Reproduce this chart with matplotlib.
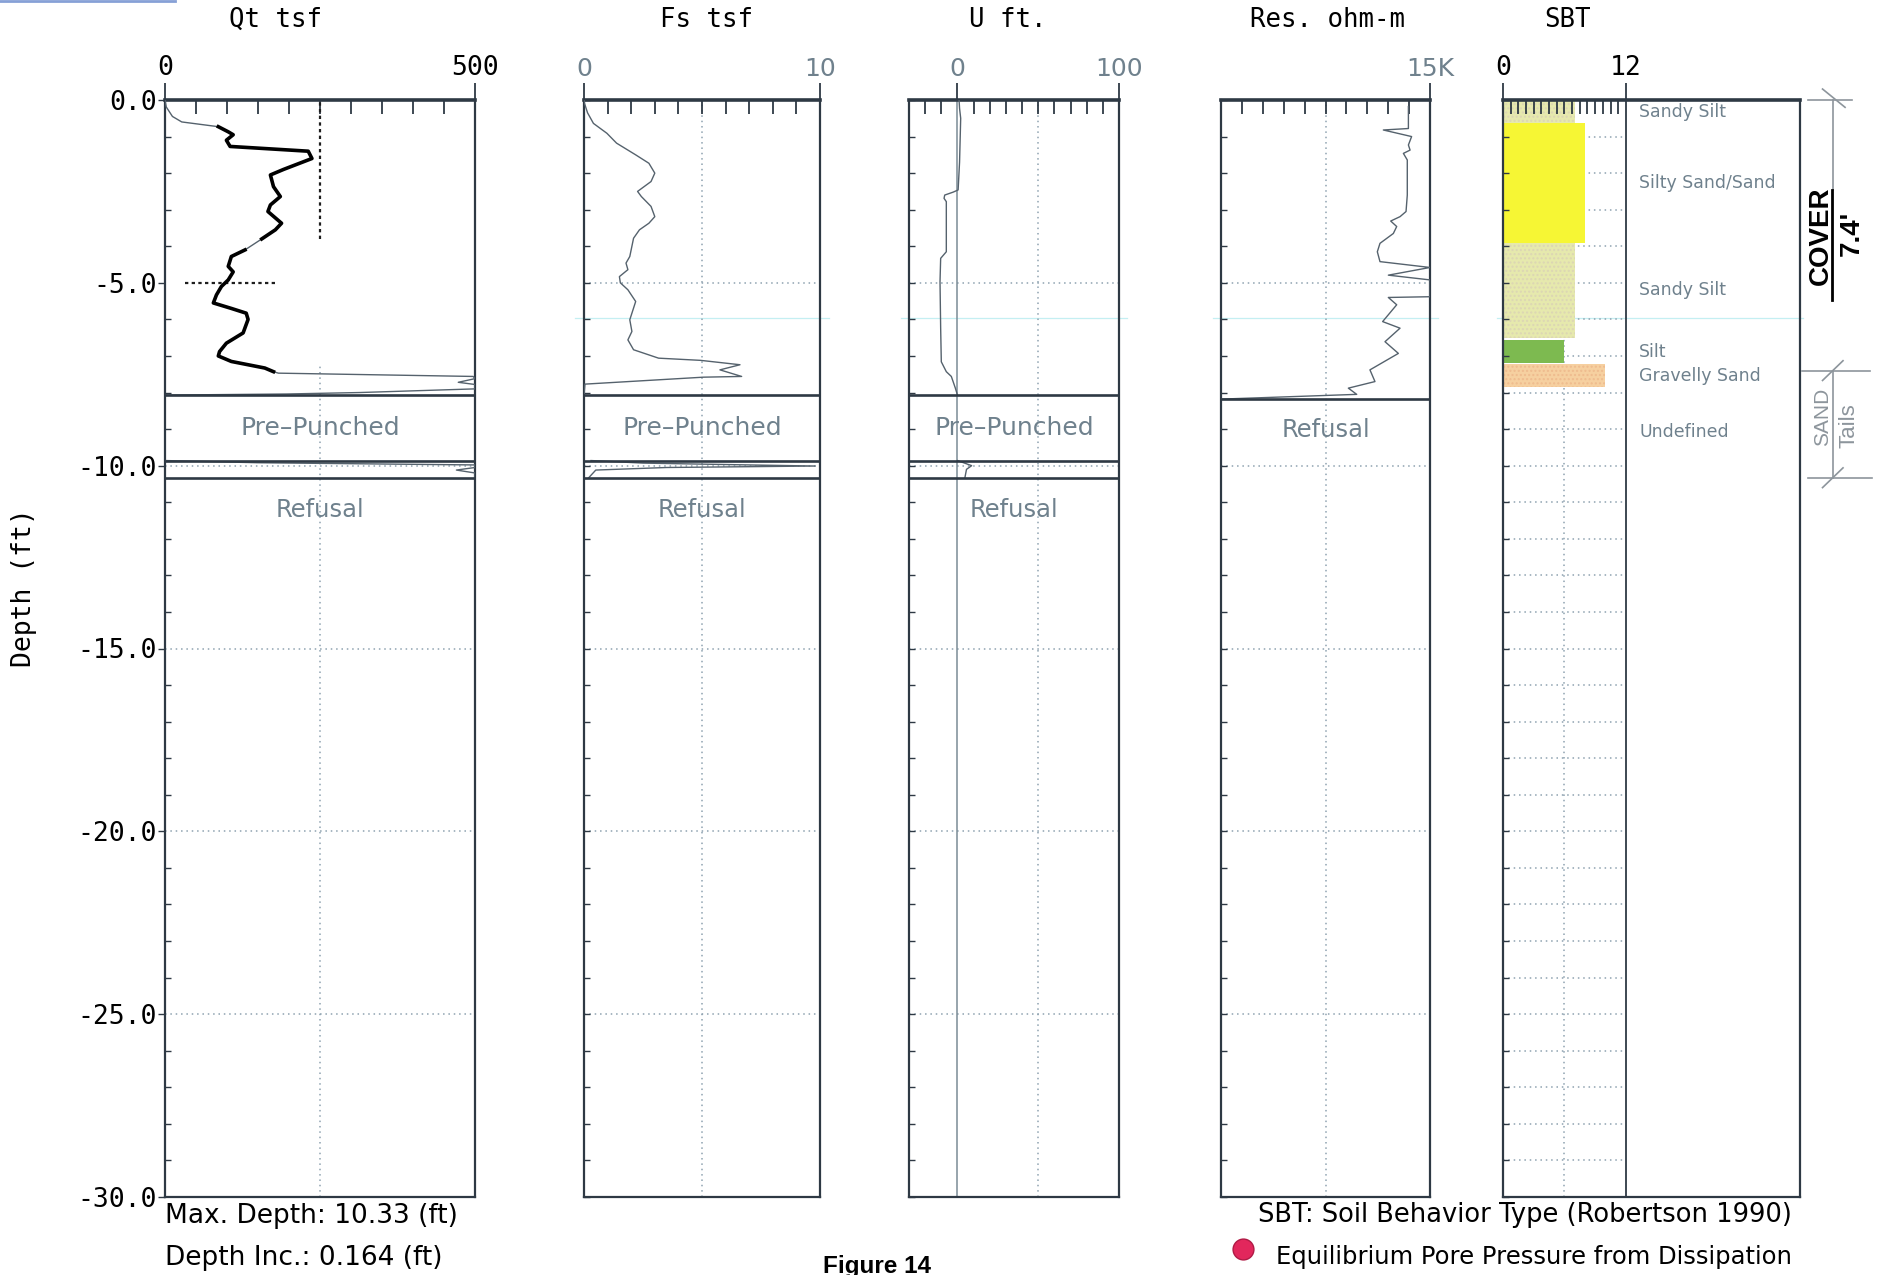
import numpy as np
import matplotlib.pyplot as plt
from matplotlib.ticker import MultipleLocator, FixedLocator, FuncFormatter
from matplotlib.lines import Line2D

# CPT sounding logs, depth in ft below ground surface
qt_depth = [0.00, 0.19, 0.45, 0.60, 0.73, 0.87, 0.95, 1.10, 1.27, 1.40, 1.60, 1.90,
            2.05, 2.37, 2.64, 2.87, 3.05, 3.37, 3.55, 3.80, 4.10, 4.28, 4.55, 4.70,
            4.92, 5.10, 5.33, 5.55, 5.70, 5.83, 6.00, 6.37, 6.65, 6.88, 7.00, 7.15,
            7.33, 7.43, 7.47, 7.56, 7.62, 7.72, 7.78, 7.90, 8.00, 8.04, 8.07]
qt_tsf = [0, 2, 12, 27, 86, 102, 110, 99, 105, 231, 237, 191,
          170, 175, 186, 170, 166, 188, 178, 156, 129, 107, 102, 110,
          102, 91, 83, 78, 107, 131, 134, 126, 99, 88, 86, 107,
          161, 175, 183, 497, 500, 473, 500, 500, 314, 196, 0]
qt_band_depth = [9.86, 9.92, 9.98, 10.05, 10.12, 10.20, 10.33]
qt_band_tsf = [0, 150, 500, 500, 470, 500, 500]

fs_depth = [0.00, 0.09, 0.35, 0.64, 0.91, 1.18, 1.50, 1.73, 2.00, 2.23, 2.50, 2.64,
            2.91, 3.19, 3.37, 3.55, 3.78, 4.28, 4.46, 4.64, 4.83, 5.00, 5.19, 5.51,
            5.83, 6.01, 6.33, 6.56, 6.83, 7.06, 7.12, 7.24, 7.38, 7.56, 7.58, 7.77, 8.07]
fs_tsf = [0.00, 0.02, 0.15, 0.40, 0.97, 1.38, 2.19, 2.75, 3.00, 2.84, 2.27, 2.43,
          2.84, 3.00, 2.75, 2.35, 2.10, 1.94, 1.78, 1.86, 1.50, 1.54, 1.86, 2.19,
          2.03, 1.94, 2.03, 1.86, 2.10, 3.16, 4.94, 6.61, 5.76, 6.68, 5.06, 0.04, 0.00]
fs_band_depth = [9.86, 9.93, 9.98, 10.01, 10.05, 10.12, 10.33]
fs_band_tsf = [0.3, 2.5, 7.0, 9.8, 3.5, 0.5, 0.2]

u_depth = [0.00, 0.23, 0.50, 1.70, 2.46, 2.52, 2.60, 2.69, 2.78, 4.15, 4.33, 4.97,
           6.24, 7.16, 7.43, 7.56, 7.70, 7.88, 8.07]
u_ft = [1.0, 1.3, 2.0, 1.3, 0.4, -2.7, -7.9, -8.3, -6.9, -6.9, -10.4, -10.8,
        -10.4, -10.0, -6.9, -3.8, -2.7, -1.3, 0.0]
u_band_depth = [9.86, 10.00, 10.10, 10.33]
u_band_ft = [0.0, 8.8, 5.6, 4.6]

res_depth = [0.18, 0.78, 0.82, 1.00, 1.23, 1.37, 1.46, 1.64, 2.60, 3.05, 3.19, 3.31,
             3.46, 3.65, 3.92, 4.15, 4.42, 4.58, 4.79, 4.92, 5.38, 5.40, 5.60, 6.06,
             6.24, 6.61, 6.93, 7.38, 7.70, 7.88, 8.05, 8.18]
res_ohm = [13450, 13450, 11650, 13680, 13450, 13570, 13090, 13370, 13370, 13280, 12850, 12180,
           12610, 12370, 11410, 11220, 11410, 15000, 12010, 15000, 15000, 12010, 12610, 11600,
           12850, 11770, 12730, 10690, 11050, 9140, 9740, 0]

# soil behaviour type layers (Robertson)
sbt_top = [0.00, 0.64, 3.90, 6.56, 7.23]
sbt_base = [0.64, 3.90, 6.50, 7.20, 7.84]
sbt_zone = [7, 8, 7, 6, 10]
sbt_name = ['Sandy Silt', 'Silty Sand/Sand', 'Sandy Silt', 'Silt', 'Gravelly Sand']

MAX_DEPTH = 10.33
DEPTH_INC = 0.164
PREPUNCH_TOP = 8.07
PREPUNCH_BASE = 9.86
RES_REFUSAL = 8.18
COVER_DEPTH = 7.4

SBT_STYLE = {
    'Sandy Silt': dict(color='#e6e9ad', hatch='....', edgecolor='#dcd6b4'),
    'Silty Sand/Sand': dict(color='#f6f634', hatch=None, edgecolor='#f6f634'),
    'Silt': dict(color='#7dba50', hatch=None, edgecolor='#7dba50'),
    'Gravelly Sand': dict(color='#f6d0a0', hatch='....', edgecolor='#efbb8e'),
}

W, H, DPI = 1892, 1275, 100
TOP_PX, BOT_PX = 100, 1197
FRAME = '#2e3944'
GRID = '#8ea2b0'
CURVE = '#55626d'
SOFT = '#6f818d'
HAND = '#8d959c'
GRID_LS = (0, (1, 2.5))
MONO = 'DejaVu Sans Mono'
SANS = 'DejaVu Sans'
NARROW = ['Liberation Sans Narrow', 'Liberation Sans', SANS]

plt.rcParams['hatch.linewidth'] = 1.0

fig = plt.figure(figsize=(W / DPI, H / DPI), dpi=DPI)
fig.patch.set_facecolor('white')


def px_axes(x0, x1):
    return fig.add_axes([x0 / W, 1 - BOT_PX / H, (x1 - x0) / W, (BOT_PX - TOP_PX) / H])


def setup(ax, xlim, majors, labels, minor, dark):
    ax.set_xlim(*xlim)
    ax.set_ylim(-30, 0)
    ax.xaxis.tick_top()
    ax.xaxis.set_major_locator(FixedLocator(majors))
    ax.xaxis.set_minor_locator(minor)
    ax.set_xticklabels(labels)
    ax.tick_params(axis='x', which='major', direction='out', length=12, width=1.3,
                   color=FRAME, pad=2)
    ax.tick_params(axis='x', which='minor', direction='in', length=10, width=1.3, color=FRAME)
    if dark:
        ax.tick_params(axis='x', labelsize=19, labelcolor='black', labelfontfamily=MONO)
    else:
        ax.tick_params(axis='x', labelsize=18, labelcolor=SOFT, labelfontfamily=SANS)
    ax.yaxis.set_major_locator(MultipleLocator(5))
    ax.yaxis.set_minor_locator(MultipleLocator(1))
    ax.tick_params(axis='y', which='both', direction='in', length=4, width=1,
                   color=FRAME, labelleft=False)
    for sp in ax.spines.values():
        sp.set_color(FRAME)
        sp.set_linewidth(1.6)
    ax.spines['top'].set_linewidth(2.6)


def grid_lines(ax, x0, x1, xmid, depths=(5, 10, 15, 20, 25)):
    ax.hlines([-d for d in depths], x0, x1, color=GRID, ls=GRID_LS, lw=1.1, zorder=1)
    ax.vlines(xmid, -30, 0, color=GRID, ls=GRID_LS, lw=1.1, zorder=1)


def bands(ax, refusal_label_depth):
    for d in (PREPUNCH_TOP, PREPUNCH_BASE, MAX_DEPTH):
        ax.axhline(-d, color=FRAME, lw=1.9, zorder=4)
    tr = ax.get_yaxis_transform()
    ax.text(0.5, -(PREPUNCH_TOP + PREPUNCH_BASE) / 2, 'Pre\u2013Punched', transform=tr,
            ha='center', va='center', fontsize=18, color=SOFT, family=SANS)
    ax.text(0.5, -refusal_label_depth, 'Refusal', transform=tr,
            ha='center', va='center', fontsize=17.5, color=SOFT, family=SANS)


def scan_line(ax, lo=-0.04, hi=1.04):
    ax.axhline(-5.96, xmin=lo, xmax=hi, clip_on=False, color='#c4eff2', lw=0.9, zorder=0.5)


# ---- Qt ----
ax = px_axes(165, 475)
setup(ax, (0, 500), [0, 500], ['0', '500'], MultipleLocator(50), True)
ax.yaxis.set_major_formatter(FuncFormatter(lambda v, p: f'{v:.1f}'.replace('-0.0', '0.0')))
ax.tick_params(axis='y', which='major', direction='out', length=5, labelleft=True,
               labelsize=19, labelfontfamily=MONO, pad=1)
ax.hlines([-10, -15, -20, -25], 0, 500, color=GRID, ls=GRID_LS, lw=1.1, zorder=1)
ax.vlines(250, -30, -7.2, color=GRID, ls=GRID_LS, lw=1.1, zorder=1)
ax.vlines(250, -3.8, 0, color='#1e1e1e', ls=(0, (1.5, 1.5)), lw=1.6, zorder=2)
ax.hlines(-5, 32, 177, color='#1e1e1e', ls=(0, (1.5, 1.5)), lw=1.6, zorder=2)
qd = np.array(qt_depth)
qv = np.array(qt_tsf)
ax.plot(qv, -qd, color=CURVE, lw=1.0, zorder=3)
for lo, hi in ((0.73, 3.80), (4.10, 7.43)):
    m = (qd >= lo) & (qd <= hi)
    ax.plot(qv[m], -qd[m], color='black', lw=2.6, zorder=3, solid_joinstyle='round')
ax.plot(qt_band_tsf, -np.array(qt_band_depth), color=CURVE, lw=1.0, zorder=3)
bands(ax, MAX_DEPTH + 0.87)

# ---- Fs ----
ax = px_axes(584, 820)
setup(ax, (0, 10), [0, 10], ['0', '10'], MultipleLocator(1), False)
grid_lines(ax, 0, 10, 5)
ax.plot(fs_tsf, -np.array(fs_depth), color=CURVE, lw=1.0, zorder=3)
ax.plot(fs_band_tsf, -np.array(fs_band_depth), color=CURVE, lw=1.0, zorder=3)
bands(ax, MAX_DEPTH + 0.87)
scan_line(ax)

# ---- U ----
ax = px_axes(909, 1119)
setup(ax, (-30, 100), [0, 100], ['0', '100'], MultipleLocator(10), False)
grid_lines(ax, -30, 100, 50)
ax.axvline(0, color='#7b8b96', lw=1.1, zorder=1)
ax.plot(u_ft, -np.array(u_depth), color=CURVE, lw=1.0, zorder=3)
ax.plot(u_band_ft, -np.array(u_band_depth), color=CURVE, lw=1.0, zorder=3)
bands(ax, MAX_DEPTH + 0.87)
scan_line(ax)

# ---- Resistivity ----
ax = px_axes(1221, 1430)
setup(ax, (0, 15000), [15000], ['15K'], MultipleLocator(1500), False)
grid_lines(ax, 0, 15000, 7500)
ax.plot(res_ohm, -np.array(res_depth), color=CURVE, lw=1.0, zorder=3)
ax.axhline(-RES_REFUSAL, color=FRAME, lw=1.9, zorder=4)
ax.text(0.5, -(RES_REFUSAL + 0.85), 'Refusal', transform=ax.get_yaxis_transform(),
        ha='center', va='center', fontsize=17.5, color=SOFT, family=SANS)
scan_line(ax)

# ---- SBT ----
ax = px_axes(1503, 1800)
setup(ax, (0, 29), [0, 12], ['0', '12'], FixedLocator(np.arange(0.75, 12, 0.75)), True)
ax.axvline(12, color=FRAME, lw=1.3, zorder=2)
ax.vlines(6, -30, 0, color=GRID, ls=GRID_LS, lw=1.1, zorder=1)
ax.hlines(-np.arange(1, 30), 0, 12, color=GRID, ls=GRID_LS, lw=1.1, zorder=1)
top = np.array(sbt_top)
base = np.array(sbt_base)
for t, b, z, name in zip(top, base, sbt_zone, sbt_name):
    st = SBT_STYLE[name]
    ax.bar(0, -(b - t), width=z, bottom=-t, align='edge', color=st['color'],
           hatch=st['hatch'], edgecolor=st['edgecolor'], lw=0, zorder=1.5)
    ax.text(13.3, -(t + b) / 2, name, ha='left', va='center', fontsize=12.5,
            color=SOFT, family=SANS)
ax.text(13.3, -(base[-1] + MAX_DEPTH) / 2, 'Undefined', ha='left', va='center',
        fontsize=12.5, color=SOFT, family=SANS)
scan_line(ax, -0.02, 1.01)

# hand-written cover / tailings bracket beside the SBT column
hk = dict(color=HAND, lw=1.2, clip_on=False, zorder=5)
ax.plot([29.8, 34.1], [0, 0], **hk)
ax.plot([31.2, 33.4], [0.3, -0.2], **hk)
ax.plot([32.2, 32.2], [0, -2.46], **hk)
ax.plot([32.1, 32.1], [-2.46, -5.47], color='black', lw=2.0, clip_on=False, zorder=5)
ax.text(31.0, -3.72, 'COVER', rotation=90, ha='center', va='center', fontsize=20,
        fontweight='bold', color='black', family=NARROW)
ax.text(34.1, -3.64, "7.4'", rotation=90, ha='center', va='center', fontsize=20,
        fontweight='bold', color='black', family=NARROW)
ax.plot([29.2, 35.8], [-COVER_DEPTH, -COVER_DEPTH], **hk)
ax.plot([31.2, 33.2], [-COVER_DEPTH - 0.27, -COVER_DEPTH + 0.27], **hk)
ax.plot([32.2, 32.2], [-COVER_DEPTH, -MAX_DEPTH], **hk)
ax.text(31.2, -(COVER_DEPTH + MAX_DEPTH) / 2 + 0.2, 'SAND', rotation=90, ha='center',
        va='center', fontsize=15, color=HAND, family=NARROW)
ax.text(33.8, -(COVER_DEPTH + MAX_DEPTH) / 2 - 0.05, 'Tails', rotation=90, ha='center',
        va='center', fontsize=16, color=HAND, family=NARROW)
ax.plot([29.8, 36.0], [-MAX_DEPTH, -MAX_DEPTH], **hk)
ax.plot([31.2, 33.2], [-MAX_DEPTH - 0.27, -MAX_DEPTH + 0.27], **hk)


def ftext(x, y, s, **kw):
    return fig.text(x / W, 1 - y / H, s, **kw)


# column titles and figure notes
for x, s in ((275, 'Qt tsf'), (706, 'Fs tsf'), (1008, 'U ft.'),
             (1328, 'Res. ohm-m'), (1567, 'SBT')):
    ftext(x, 20, s, ha='center', va='center', fontsize=18.5, family=MONO)
ftext(24, 588, 'Depth (ft)', rotation=90, ha='center', va='center', fontsize=19, family=MONO)
ftext(165, 1216, f'Max. Depth: {MAX_DEPTH:.2f} (ft)', ha='left', va='center',
      fontsize=19, family=SANS)
ftext(165, 1258, f'Depth Inc.: {DEPTH_INC:.3f} (ft)', ha='left', va='center',
      fontsize=19, family=SANS)
ftext(877, 1255, 'Figure 14', ha='center', va='top', fontsize=17.5, fontweight='bold',
      family='Liberation Sans')
ftext(1792, 1215, 'SBT: Soil Behavior Type (Robertson 1990)', ha='right', va='center',
      fontsize=18.5, family=SANS)
ftext(1792, 1257, 'Equilibrium Pore Pressure from Dissipation', ha='right', va='center',
      fontsize=17.5, family=SANS)
fig.add_artist(Line2D([1243 / W], [1 - 1249 / H], marker='o', markersize=15,
                      markerfacecolor='#e2275c', markeredgecolor='#b01a45',
                      transform=fig.transFigure))
fig.add_artist(Line2D([0, 175 / W], [0.999, 0.999], color='#86a0d6', lw=2.0,
                      transform=fig.transFigure))

fig.savefig('out.png', dpi=DPI, facecolor='white')
